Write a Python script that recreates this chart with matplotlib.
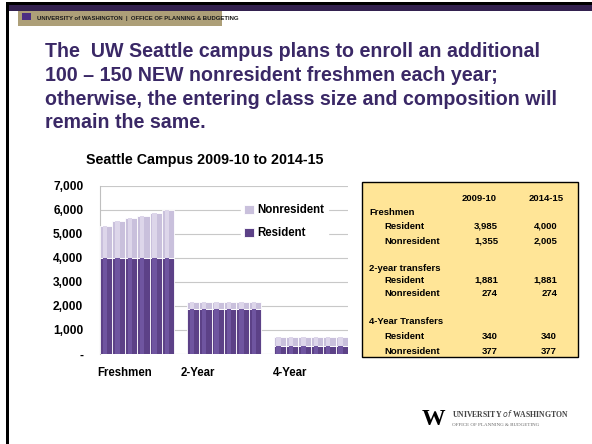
import matplotlib
matplotlib.use("Agg")
import matplotlib.pyplot as plt
from matplotlib.patches import Rectangle
import numpy as np

# ---------------- data ----------------
groups = ["Freshmen", "2-Year", "4-Year"]
years = ["2009-10", "2010-11", "2011-12", "2012-13", "2013-14", "2014-15"]
fresh_res = [3985, 4000, 4000, 4000, 4000, 4000]
fresh_non = [1355, 1540, 1650, 1750, 1890, 2005]
two_res = [1881, 1881, 1881, 1881, 1881, 1881]
two_non = [274, 274, 274, 274, 274, 274]
four_res = [340, 340, 340, 340, 340, 340]
four_non = [377, 377, 377, 377, 377, 377]
yticks = [0, 1000, 2000, 3000, 4000, 5000, 6000, 7000]
ytick_labels = ["-", "1,000", "2,000", "3,000", "4,000", "5,000", "6,000", "7,000"]

title_lines = [
    "The  UW Seattle campus plans to enroll an additional",
    "100 \u2013 150 NEW nonresident freshmen each year;",
    "otherwise, the entering class size and composition will",
    "remain the same.",
]
chart_title = "Seattle Campus 2009-10 to 2014-15"

table_header = ["2009-10", "2014-15"]
table_rows = [
    ("Freshmen", None, None, 0),
    ("Resident", "3,985", "4,000", 1),
    ("Nonresident", "1,355", "2,005", 1),
    ("2-year transfers", None, None, 0),
    ("Resident", "1,881", "1,881", 1),
    ("Nonresident", "274", "274", 1),
    ("4-Year Transfers", None, None, 0),
    ("Resident", "340", "340", 1),
    ("Nonresident", "377", "377", 1),
]
row_y_px = [212.7, 226, 241, 268, 280, 293.5, 321.7, 336, 351]

# ---------------- figure ----------------
W, H = 592, 444
fig = plt.figure(figsize=(W / 100, H / 100), dpi=100)
plt.rcParams["font.family"] = ["Liberation Sans", "DejaVu Sans"]

bg = fig.add_axes([0, 0, 1, 1])
bg.set_xlim(0, W)
bg.set_ylim(H, 0)
bg.axis("off")

# slide frame
bg.add_patch(Rectangle((6, 2.5), W - 6, 3, color="black", lw=0))
bg.add_patch(Rectangle((6, 5.5), W - 6, 5.5, color="#33214f", lw=0))
bg.add_patch(Rectangle((6, 2.5), 3, H, color="black", lw=0))

# header strip logo
bg.add_patch(Rectangle((18, 11), 204, 15, color="#ad9f78", lw=0))
bg.add_patch(Rectangle((22, 13), 9, 7, color="#4b2e83", lw=0))
bg.text(37, 18.5, "UNIVERSITY of WASHINGTON  |  OFFICE OF PLANNING & BUDGETING",
        fontsize=4.3, fontweight="bold", color="#1a1a1a", va="center", ha="left")

# title
purple = "#3a2866"
for i, line in enumerate(title_lines):
    bg.text(45, 51.5 + i * 23.8, line, fontsize=14.1, fontweight="bold",
            color=purple, va="center", ha="left")

# chart title
bg.text(205, 160, chart_title, fontsize=10.3, fontweight="bold", color="black",
        ha="center", va="center")

# ---------------- bar chart ----------------
ax = fig.add_axes([100 / W, 1 - 354 / H, 248 / W, 168 / H])
res_all = fresh_res + two_res + four_res
non_all = fresh_non + two_non + four_non
xpos = np.array([g * 7 + i + 0.5 for g in range(3) for i in range(6)])
res_c = "#5c4187"
non_c = "#c9c0dc"
ax.bar(xpos, res_all, width=1.0, color=res_c, edgecolor="white", linewidth=0.6,
       label="Resident", zorder=3)
ax.bar(xpos, non_all, width=1.0, bottom=res_all, color=non_c, edgecolor="white",
       linewidth=0.6, label="Nonresident", zorder=3)
# subtle highlight stripes for 3-D look
ax.bar(xpos - 0.1, res_all, width=0.35, color="#6f55a0", linewidth=0, zorder=4)
ax.bar(xpos - 0.1, non_all, width=0.35, bottom=res_all, color="#ddd6ea",
       linewidth=0, zorder=4)

ax.set_xlim(0, 20)
ax.set_ylim(0, 7000)
ax.set_yticks(yticks)
ax.set_yticklabels(ytick_labels, fontsize=8.6, fontweight="bold")
ax.yaxis.grid(True, color="#c8c8c8", linewidth=0.8, zorder=0)
ax.set_axisbelow(True)
for s in ["top", "right", "bottom"]:
    ax.spines[s].set_visible(False)
ax.spines["left"].set_color("#bfbfbf")
ax.tick_params(axis="y", length=0, pad=12)
ax.tick_params(axis="x", length=0, pad=9)
ax.set_xticks([2.0, 7.9, 15.3])
ax.set_xticklabels(groups, fontsize=8.3, fontweight="bold")

h, l = ax.get_legend_handles_labels()
leg = ax.legend(h[::-1], l[::-1], loc="upper left", bbox_to_anchor=(0.545, 0.945),
                frameon=True, fancybox=False, edgecolor="white", framealpha=1,
                prop={"weight": "bold", "size": 8.3}, handlelength=0.8,
                handleheight=0.8, handletextpad=0.3, labelspacing=0.95,
                borderpad=0.3)
leg.set_zorder(5)

# ---------------- table ----------------
bg.add_patch(Rectangle((361.5, 181.5), 216, 175, facecolor="#ffe597",
                       edgecolor="black", lw=1.0))
tfs = 6.8
bg.text(497, 198, table_header[0], fontsize=tfs, fontweight="bold", ha="right", va="center")
bg.text(564, 198, table_header[1], fontsize=tfs, fontweight="bold", ha="right", va="center")
for (lab, v1, v2, ind), y in zip(table_rows, row_y_px):
    x = 369 if ind == 0 else 384
    bg.text(x, y, lab, fontsize=tfs, fontweight="bold", ha="left", va="center")
    if v1 is not None:
        bg.text(498, y, v1, fontsize=tfs, fontweight="bold", ha="right", va="center")
        bg.text(557, y, v2, fontsize=tfs, fontweight="bold", ha="right", va="center")

# ---------------- footer logo ----------------
bg.text(433, 419, "W", fontsize=17, fontweight="bold", family="Liberation Serif",
        ha="center", va="center", color="black")
bg.text(452, 413.5, "UNIVERSITY $\\it{of}$ WASHINGTON", fontsize=5.6,
        family="Liberation Serif", fontweight="bold", color="#444444",
        ha="left", va="center")
bg.text(452, 425, "OFFICE OF PLANNING & BUDGETING", fontsize=3.6,
        family="Liberation Serif", color="#666666", ha="left", va="center")

fig.savefig("out.png", dpi=100)
